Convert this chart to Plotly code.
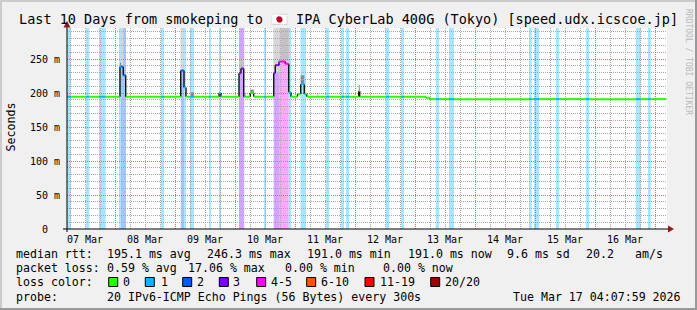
import plotly.graph_objects as go

# ---------------- data ----------------
title_text = "Last 10 Days from smokeping to 🇯🇵 IPA CyberLab 400G (Tokyo) [speed.udx.icscoe.jp]"

# time axis in hours after 07 Mar 00:00
x_range = [4.8, 244.8]
day_labels = ["07 Mar", "08 Mar", "09 Mar", "10 Mar", "11 Mar",
              "12 Mar", "13 Mar", "14 Mar", "15 Mar", "16 Mar"]
day_label_h = [12, 36, 60, 84, 108, 132, 156, 180, 204, 228]
midnight_h = [24, 48, 72, 96, 120, 144, 168, 192, 216, 240]

y_max = 295.6
y_tick_vals = [0, 50, 100, 150, 200, 250]
y_tick_text = ["0\u00a0\u00a0", "50 m", "100 m", "150 m", "200 m", "250 m"]

# median rtt (ms), step function: value holds from t until the next t
median_t = [4.8, 26.0, 27.3, 28.3, 50.3, 51.6, 52.4, 65.6, 66.4, 73.6, 74.4, 75.5,
            78.1, 79.5, 87.5, 88.1, 89.6, 92.1, 93.5, 94.4, 97.0, 98.3, 99.7, 100.7,
            121.5, 121.9, 148.4, 150.0]
median_ms = [194.5, 238.7, 226.0, 194.5, 233.0, 208.0, 194.5, 200.0, 194.5, 229.0, 236.0, 194.5,
             200.0, 194.5, 229.0, 241.0, 246.3, 243.0, 201.0, 194.5, 198.5, 213.0, 198.5, 194.5,
             203.0, 194.5, 193.0, 191.0]

# packet loss periods (lost pings out of 20)
loss_t0 = [4.8, 12.4, 17.6, 25.6, 26.4, 42.3, 50.3, 51.6, 54.0, 61.6, 65.6, 73.6, 83.6,
           87.5, 89.6, 93.5, 98.2, 108.4, 114.4, 116.4, 132.4, 138.4, 152.3, 157.6,
           189.6, 191.6, 200.4, 212.4, 232.3, 237.2]
loss_t1 = [6.4, 13.7, 20.3, 26.4, 28.4, 43.6, 51.6, 52.4, 55.6, 62.4, 66.4, 75.7, 84.4,
           89.6, 93.5, 94.4, 100.4, 109.6, 115.6, 117.6, 133.6, 139.6, 153.6, 159.6,
           190.7, 193.6, 201.6, 213.6, 234.3, 238.3]
loss_n = [1, 1, 1, 1, 2, 1, 2, 1, 1, 1, 1, 3, 1,
          3, 4, 1, 1, 1, 1, 1, 1, 1, 1, 1,
          1, 1, 1, 1, 1, 1]

# smoke (spread of the 20 pings above the median)
smoke_t0 = [26.0, 26.4, 50.3, 54.3, 73.6, 75.5, 78.1, 87.5, 90.5, 98.3, 104.9, 121.5]
smoke_t1 = [26.4, 27.3, 51.6, 55.6, 75.5, 76.4, 79.5, 90.5, 93.5, 99.7, 105.3, 121.9]
smoke_hi = [245, 999, 999, 201, 251, 200, 205, 999, 999, 226, 200, 212]
smoke_density = [2, 0, 0, 2, 1, 1, 2, 0, 1, 2, 1, 2]

loss_classes = ["0", "1", "2", "3", "4-5", "6-10", "11-19", "20/20"]
loss_colors = ["#26ff00", "#00b8ff", "#0059ff", "#7e00ff", "#ff00ff", "#ff5500", "#ff0000", "#a10000"]

stats_rows = [
    [("median rtt:", 16), ("195.1 ms avg", 107.3), ("246.3 ms max", 207.3), ("191.0 ms min", 306.7),
     ("191.0 ms now", 408.3), ("9.6 ms sd", 506.7), ("20.2", 586), ("am/s", 635)],
    [("packet loss:", 16), ("0.59 % avg", 107.3), ("17.06 % max", 187.5), ("0.00 % min", 285),
     ("0.00 % now", 382.7)],
]
probe_text = "20 IPv6-ICMP Echo Pings (56 Bytes) every 300s"
date_text = "Tue Mar 17 04:07:59 2026"

# ---------------- layout geometry (pixels) ----------------
W, H = 697, 310
PL, PR, PT, PB = 67, 667, 28, 229
FONT = "DejaVu Sans Mono"


def px2x(px):
    return (px - PL) / (PR - PL)


def py2y(py):
    return (PB - py) / (PB - PT)


def loss_class(n):
    if n <= 3:
        return n
    if n <= 5:
        return 4
    if n <= 10:
        return 5
    if n <= 19:
        return 6
    return 7


def lighten(hexc, a=0.35):
    r, g, b = int(hexc[1:3], 16), int(hexc[3:5], 16), int(hexc[5:7], 16)
    f = lambda c: int(round(255 - a * (255 - c)))
    return "#%02x%02x%02x" % (f(r), f(g), f(b))


def med_at(t):
    v = median_ms[0]
    for tt, vv in zip(median_t, median_ms):
        if tt <= t + 1e-9:
            v = vv
    return v


def loss_at(t):
    for a, b, n in zip(loss_t0, loss_t1, loss_n):
        if a <= t < b:
            return n
    return 0


shapes = []
# loss background bands
for a, b, n in zip(loss_t0, loss_t1, loss_n):
    shapes.append(dict(type="rect", xref="x", yref="paper", x0=a, x1=b, y0=0, y1=1,
                       fillcolor=lighten(loss_colors[loss_class(n)]), line=dict(width=0),
                       layer="below"))
# smoke
smoke_shades = ["#d6d6d6", "#c2c2c2", "#8a8a8a"]
for a, b, hi, d in zip(smoke_t0, smoke_t1, smoke_hi, smoke_density):
    lo = med_at(a)
    shapes.append(dict(type="rect", xref="x", yref="y", x0=a, x1=b, y0=lo, y1=min(hi, y_max),
                       fillcolor=smoke_shades[d], line=dict(width=0), layer="below"))

traces = []
# vertical steps of the median (black)
vx, vy = [], []
for i in range(1, len(median_t)):
    if median_ms[i] != median_ms[i - 1]:
        vx += [median_t[i], median_t[i], None]
        vy += [median_ms[i - 1], median_ms[i], None]
traces.append(go.Scatter(x=vx, y=vy, mode="lines", line=dict(color="#000000", width=1.3),
                         showlegend=False, hoverinfo="skip"))

# horizontal median segments coloured by loss
bps = sorted(set(median_t + loss_t0 + loss_t1 + [x_range[1] - 0.2]))
groups = {}
for a, b in zip(bps[:-1], bps[1:]):
    if b <= a:
        continue
    v = med_at(a)
    c = loss_colors[loss_class(loss_at((a + b) / 2))]
    gx, gy = groups.setdefault(c, ([], []))
    gx += [a, b, None]
    gy += [v, v, None]
for c, (gx, gy) in groups.items():
    traces.append(go.Scatter(x=gx, y=gy, mode="lines", line=dict(color=c, width=2),
                             showlegend=False, hoverinfo="skip"))

# invisible trace for label axis
traces.append(go.Scatter(x=[x_range[0]], y=[0], xaxis="x2", mode="markers",
                         marker=dict(opacity=0), showlegend=False, hoverinfo="skip"))

fig = go.Figure(traces)

# axis lines and arrows
ARROW = "#8b1a1a"
shapes.append(dict(type="line", xref="paper", yref="paper", x0=px2x(63), x1=px2x(669),
                   y0=0, y1=0, line=dict(color="#000000", width=1)))
shapes.append(dict(type="line", xref="paper", yref="paper", x0=0, x1=0,
                   y0=py2y(232), y1=py2y(25), line=dict(color="#000000", width=1)))
shapes.append(dict(type="path", xref="paper", yref="paper",
                   path="M %f,%f L %f,%f L %f,%f Z" % (px2x(668), py2y(225.5), px2x(674), py2y(229),
                                                       px2x(668), py2y(232.5)),
                   fillcolor=ARROW, line=dict(width=0)))
shapes.append(dict(type="path", xref="paper", yref="paper",
                   path="M %f,%f L %f,%f L %f,%f Z" % (px2x(63.5), py2y(27.5), px2x(67), py2y(21),
                                                       px2x(70.5), py2y(27.5)),
                   fillcolor=ARROW, line=dict(width=0)))
# frame shading
shapes.append(dict(type="rect", xref="paper", yref="paper", x0=px2x(0), x1=px2x(697),
                   y0=py2y(2), y1=py2y(0), fillcolor="#cbcbcb", line=dict(width=0)))
shapes.append(dict(type="rect", xref="paper", yref="paper", x0=px2x(0), x1=px2x(2),
                   y0=py2y(310), y1=py2y(0), fillcolor="#cbcbcb", line=dict(width=0)))
shapes.append(dict(type="rect", xref="paper", yref="paper", x0=px2x(695), x1=px2x(697),
                   y0=py2y(310), y1=py2y(0), fillcolor="#999999", line=dict(width=0)))
shapes.append(dict(type="rect", xref="paper", yref="paper", x0=px2x(0), x1=px2x(697),
                   y0=py2y(310), y1=py2y(308), fillcolor="#999999", line=dict(width=0)))

annotations = []
FS = 11.6


def txt(s, px, py, size=FS, color="#000000", xanchor="left", angle=0):
    annotations.append(dict(text=s, xref="paper", yref="paper", x=px2x(px), y=py2y(py),
                            xanchor=xanchor, yanchor="middle", showarrow=False, textangle=angle,
                            font=dict(family=FONT, size=size, color=color), borderpad=0))


txt(title_text, 348.5, 19.5, size=13.5, xanchor="center")
txt("Seconds", 10.5, 127, xanchor="center", angle=-90)
txt("RRDTOOL / TOBI OETIKER", 689, 62, size=8, color="#b8b8b8", xanchor="center", angle=90)

row_y = [253.5, 268, 282.3, 296.7]
for ri, row in enumerate(stats_rows):
    for s, px in row:
        txt(s.replace(" ", "\u00a0"), px - 1, row_y[ri])
txt("loss\u00a0color:", 15, row_y[2])
box_x = [108.7, 145.3, 182.7, 219.3, 256.7, 306.7, 365, 430.7]
lab_x = [123.3, 161, 196.7, 233.3, 270.7, 320.7, 380, 445]
for name, col, bx, lx in zip(loss_classes, loss_colors, box_x, lab_x):
    shapes.append(dict(type="rect", xref="paper", yref="paper", x0=px2x(bx), x1=px2x(bx + 9),
                       y0=py2y(286.5), y1=py2y(277.5), fillcolor=col,
                       line=dict(color="#000000", width=1)))
    txt(name, lx - 1, row_y[2])
txt("probe:", 15, row_y[3])
txt(probe_text.replace(" ", "\u00a0"), 106.3, row_y[3])
txt(date_text.replace(" ", "\u00a0"), 512.3, row_y[3])

GRID = "#a8a8a8"
MGRID = "#e07070"
fig.update_layout(
    width=W, height=H,
    margin=dict(l=PL, r=W - PR, t=PT, b=H - PB, pad=0),
    paper_bgcolor="#f0f0f0", plot_bgcolor="#ffffff",
    hovermode=False, showlegend=False,
    font=dict(family=FONT, size=10, color="#000000"),
    xaxis=dict(range=x_range, tickmode="array", tickvals=midnight_h, showticklabels=False,
               ticks="", showline=False, zeroline=False, showgrid=True,
               gridcolor=MGRID, griddash="1px,1px", gridwidth=1,
               minor=dict(tickmode="linear", tick0=0, dtick=6, showgrid=True,
                          gridcolor=GRID, griddash="1px,1px", gridwidth=1, ticks="")),
    xaxis2=dict(range=x_range, overlaying="x", anchor="y", side="bottom", tickmode="array",
                tickvals=day_label_h, ticktext=day_labels, showgrid=False, showline=False,
                zeroline=False, ticks="", ticklabelstandoff=3,
                tickfont=dict(family=FONT, size=10, color="#000000")),
    yaxis=dict(range=[0, y_max], tickmode="array", tickvals=y_tick_vals, ticktext=y_tick_text,
               showline=False, zeroline=False, ticks="", showgrid=True,
               gridcolor=MGRID, griddash="1px,1px", gridwidth=1, ticklabelstandoff=6,
               tickfont=dict(family=FONT, size=10, color="#000000"),
               minor=dict(tickmode="linear", tick0=0, dtick=10, showgrid=True,
                          gridcolor=GRID, griddash="1px,1px", gridwidth=1, ticks="")),
    shapes=shapes,
    annotations=annotations,
)

fig.write_html("out.html")
